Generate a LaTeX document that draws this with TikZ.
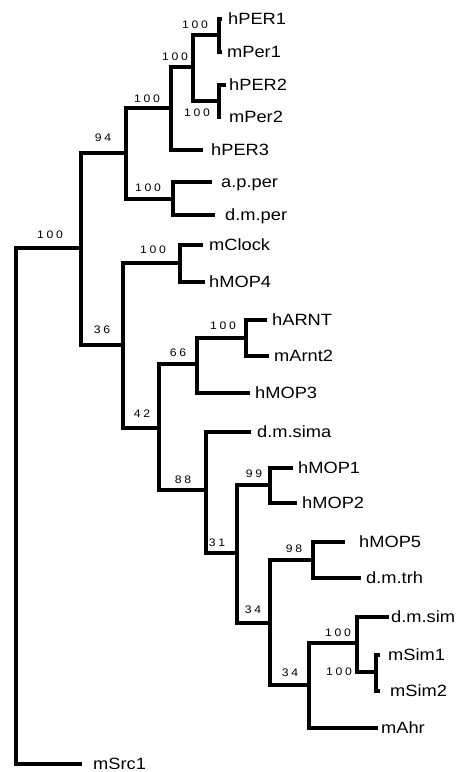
\documentclass[tikz,border=0pt]{standalone}
\usepackage{fontspec}
\setmainfont{Liberation Sans}
\newfontfamily\leaffont[FakeStretch=1.12]{Liberation Sans}
\newfontfamily\bootfont[FakeStretch=1.12,LetterSpace=25]{Liberation Sans}
\begin{document}
\begin{tikzpicture}[x=1pt,y=-1pt,
  br/.style={line width=4pt, line join=miter},
  leaf/.style={anchor=base west, inner sep=0pt, yshift=-5.8pt, font=\leaffont\fontsize{16.3}{17}\selectfont},
  boot/.style={anchor=center, inner sep=0pt, font=\bootfont\fontsize{10.9}{11}\selectfont}]
\useasboundingbox (0,0) rectangle (463,772);
% internal nodes
\coordinate (nR) at (16,500);
\coordinate (n1) at (81,248);
\coordinate (n94) at (126,153);
\coordinate (n100a) at (171,108);
\coordinate (n100b) at (193,67);
\coordinate (n100c) at (219,35);
\coordinate (n100d) at (219,101);
\coordinate (n100ap) at (173,199);
\coordinate (n36) at (123,345);
\coordinate (nclock) at (180,263);
\coordinate (n42) at (159,428);
\coordinate (n66) at (197,364);
\coordinate (narnt) at (246,338);
\coordinate (n88) at (206,490);
\coordinate (n31) at (237,553);
\coordinate (n99) at (270,485);
\coordinate (n34a) at (270,623);
\coordinate (n98) at (313,560);
\coordinate (n34b) at (309,685);
\coordinate (nsim) at (357,643);
\coordinate (nmsim) at (376,672);
% leaf tips
\coordinate (t-hPER1) at (222,19);
\coordinate (t-mPer1) at (222,52);
\coordinate (t-hPER2) at (226,85);
\coordinate (t-mPer2) at (221,117);
\coordinate (t-hPER3) at (203,150);
\coordinate (t-apper) at (212,182);
\coordinate (t-dmper) at (215,215);
\coordinate (t-mClock) at (203,245);
\coordinate (t-hMOP4) at (205,282);
\coordinate (t-hARNT) at (267,320);
\coordinate (t-mArnt2) at (269,356);
\coordinate (t-hMOP3) at (250,393);
\coordinate (t-dmsima) at (251,432);
\coordinate (t-hMOP1) at (293,468);
\coordinate (t-hMOP2) at (297,503);
\coordinate (t-hMOP5) at (345,542);
\coordinate (t-dmtrh) at (361,578);
\coordinate (t-dmsim) at (389,617);
\coordinate (t-mSim1) at (380,655);
\coordinate (t-mSim2) at (380,691);
\coordinate (t-mAhr) at (378,728);
\coordinate (t-mSrc1) at (82,764);
% branches
\draw[br] (n1) -| (nR) |- (t-mSrc1);
\draw[br] (n94) -| (n1) |- (n36);
\draw[br] (n100a) -| (n94) |- (n100ap);
\draw[br] (n100b) -| (n100a) |- (t-hPER3);
\draw[br] (n100c) -| (n100b) |- (n100d);
\draw[br] (t-hPER1) -| (n100c) |- (t-mPer1);
\draw[br] (t-hPER2) -| (n100d) |- (t-mPer2);
\draw[br] (t-apper) -| (n100ap) |- (t-dmper);
\draw[br] (nclock) -| (n36) |- (n42);
\draw[br] (t-mClock) -| (nclock) |- (t-hMOP4);
\draw[br] (n66) -| (n42) |- (n88);
\draw[br] (narnt) -| (n66) |- (t-hMOP3);
\draw[br] (t-hARNT) -| (narnt) |- (t-mArnt2);
\draw[br] (t-dmsima) -| (n88) |- (n31);
\draw[br] (n99) -| (n31) |- (n34a);
\draw[br] (t-hMOP1) -| (n99) |- (t-hMOP2);
\draw[br] (n98) -| (n34a) |- (n34b);
\draw[br] (t-hMOP5) -| (n98) |- (t-dmtrh);
\draw[br] (nsim) -| (n34b) |- (t-mAhr);
\draw[br] (t-dmsim) -| (nsim) |- (nmsim);
\draw[br] (t-mSim1) -| (nmsim) |- (t-mSim2);
% leaf labels
\node[leaf] (l-hPER1) at (228,19) {hPER1};
\node[leaf] (l-mPer1) at (227,52) {mPer1};
\node[leaf] (l-hPER2) at (229,85) {hPER2};
\node[leaf] (l-mPer2) at (229,117) {mPer2};
\node[leaf] (l-hPER3) at (211,150) {hPER3};
\node[leaf] (l-apper) at (221,182) {a.p.per};
\node[leaf] (l-dmper) at (225,215) {d.m.per};
\node[leaf] (l-mClock) at (209,245) {mClock};
\node[leaf] (l-hMOP4) at (209,282) {hMOP4};
\node[leaf] (l-hARNT) at (272,320) {hARNT};
\node[leaf] (l-mArnt2) at (274,356) {mArnt2};
\node[leaf] (l-hMOP3) at (255,393) {hMOP3};
\node[leaf] (l-dmsima) at (257,432) {d.m.sima};
\node[leaf] (l-hMOP1) at (298,468) {hMOP1};
\node[leaf] (l-hMOP2) at (302,503) {hMOP2};
\node[leaf] (l-hMOP5) at (359,542) {hMOP5};
\node[leaf] (l-dmtrh) at (366,578) {d.m.trh};
\node[leaf] (l-dmsim) at (391,617) {d.m.sim};
\node[leaf] (l-mSim1) at (388,655) {mSim1};
\node[leaf] (l-mSim2) at (390,691) {mSim2};
\node[leaf] (l-mAhr) at (381,728) {mAhr};
\node[leaf] (l-mSrc1) at (93,764) {mSrc1};
% bootstrap values
\node[boot] (b-root) at (50,235) {100};
\node[boot] (b-94) at (103,138) {94};
\node[boot] (b-100a) at (147,99) {100};
\node[boot] (b-100b) at (175,57) {100};
\node[boot] (b-100c) at (195,25) {100};
\node[boot] (b-100d) at (197,113) {100};
\node[boot] (b-100ap) at (148,188) {100};
\node[boot] (b-clock) at (153,250) {100};
\node[boot] (b-36) at (102,330) {36};
\node[boot] (b-66) at (178,353) {66};
\node[boot] (b-arnt) at (223,326) {100};
\node[boot] (b-42) at (142,414) {42};
\node[boot] (b-88) at (183,480) {88};
\node[boot] (b-99) at (254,474) {99};
\node[boot] (b-31) at (217,543) {31};
\node[boot] (b-98) at (294,549) {98};
\node[boot] (b-34a) at (253,610) {34};
\node[boot] (b-sim) at (338,633) {100};
\node[boot] (b-msim) at (339,672) {100};
\node[boot] (b-34b) at (290,673) {34};
\end{tikzpicture}
\end{document}
